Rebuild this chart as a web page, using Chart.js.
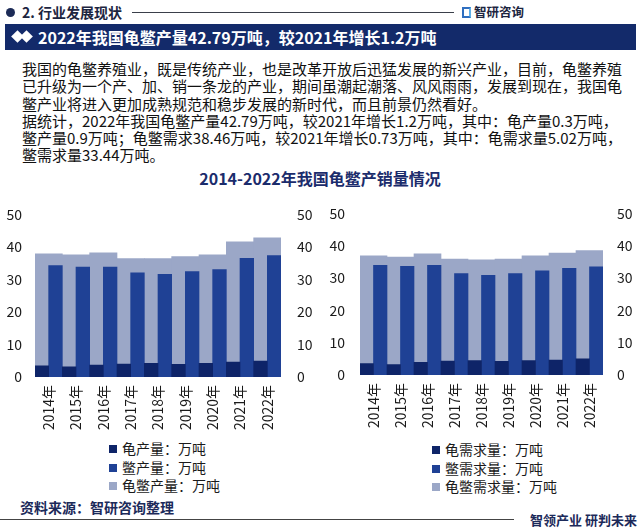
<!DOCTYPE html>
<html><head><meta charset="utf-8">
<script src="https://cdn.jsdelivr.net/npm/chart.js@4.4.1/dist/chart.umd.min.js"></script>
<style>
html,body{margin:0;padding:0;background:#fff;}
body{width:640px;height:532px;position:relative;overflow:hidden;font-family:"Noto Sans CJK SC","Noto Sans",sans-serif;color:#111;}
.abs{position:absolute;}
#hdrDot{left:6px;top:8px;width:9px;height:9px;border-radius:50%;background:#1c2b57;}
#hdrText{left:22px;top:2px;font-size:14px;font-weight:bold;color:#1c2540;line-height:20px;}
#hdrLine{left:132px;top:12px;width:322px;height:1px;background:#3a3f4a;}
#logo{left:462px;top:3px;font-size:12.5px;font-weight:bold;color:#1c2540;line-height:18px;}
#logoIcon{display:inline-block;width:9px;height:11px;border:2px solid #2f6fc0;border-right-color:#5fb0e8;box-sizing:border-box;margin-right:3px;vertical-align:-1px;}
#banner{left:5px;top:24px;width:631px;height:26px;background:#132a6a;}
#bannerText{left:38px;top:24px;font-size:16px;font-weight:bold;color:#fff;line-height:26px;}
.dia{width:9px;height:9px;background:#fff;transform:rotate(45deg);top:32px;}
#para{left:22px;top:60px;width:610px;font-size:15px;line-height:17.3px;color:#111;}
#para div{white-space:nowrap;}
#title{left:0;top:168px;width:640px;text-align:center;font-size:16px;font-weight:bold;color:#1b2c6c;line-height:20px;}
canvas{position:absolute;}
.legend{position:absolute;font-size:14px;line-height:18.5px;color:#1a1a1a;}
.legend .it{white-space:nowrap;}
.legend .sw{display:inline-block;width:8px;height:8px;margin-right:5px;vertical-align:1px;}
#src{left:20px;top:497px;font-size:14px;font-weight:bold;color:#1c2a5a;line-height:20px;}
#footLine{left:0;top:519px;width:514px;height:1px;background:#444;}
#slogan{left:530px;top:511px;font-size:13px;font-weight:bold;color:#1c2a5a;line-height:18px;}
</style></head>
<body>
<div id="hdrDot" class="abs"></div>
<div id="hdrText" class="abs">2. 行业发展现状</div>
<div id="hdrLine" class="abs"></div>
<div id="logo" class="abs"><span id="logoIcon"></span>智研咨询</div>
<div id="banner" class="abs"></div>
<div class="abs dia" style="left:13px"></div>
<div class="abs dia" style="left:22px"></div>
<div id="bannerText" class="abs">2022年我国龟鳖产量42.79万吨，较2021年增长1.2万吨</div>
<div id="para" class="abs">
<div>我国的龟鳖养殖业，既是传统产业，也是改革开放后迅猛发展的新兴产业，目前，龟鳖养殖</div>
<div>已升级为一个产、加、销一条龙的产业，期间虽潮起潮落、风风雨雨，发展到现在，我国龟</div>
<div>鳖产业将进入更加成熟规范和稳步发展的新时代，而且前景仍然看好。</div>
<div>据统计，2022年我国龟鳖产量42.79万吨，较2021年增长1.2万吨，其中：龟产量0.3万吨，</div>
<div>鳖产量0.9万吨；龟鳖需求38.46万吨，较2021年增长0.73万吨，其中：龟需求量5.02万吨，</div>
<div>鳖需求量33.44万吨。</div>
</div>
<div id="title" class="abs">2014-2022年我国龟鳖产销量情况</div>
<canvas id="c1" width="320" height="240" style="left:0;top:190px;width:320px;height:240px"></canvas>
<canvas id="c2" width="320" height="240" style="left:320px;top:190px;width:320px;height:240px"></canvas>
<div id="lg1" class="legend" style="left:109px;top:439px"></div>
<div id="lg2" class="legend" style="left:432px;top:440px"></div>
<div id="src" class="abs">资料来源：智研咨询整理</div>
<div id="footLine" class="abs"></div>
<div id="slogan" class="abs">智领产业 研判未来</div>
<script>
// ---- data ----
const years = ['2014年','2015年','2016年','2017年','2018年','2019年','2020年','2021年','2022年'];
const turtleOutput = [3.4, 3.1, 3.7, 4.0, 4.2, 3.9, 4.2, 4.6, 4.9];
const softshellOutput = [34.3, 33.8, 33.8, 32.0, 31.6, 32.4, 33.0, 36.5, 37.3];
const totalOutput = [37.9, 37.6, 38.2, 36.4, 36.4, 37.0, 37.6, 41.59, 42.79];
const turtleDemand = [3.5, 3.2, 3.9, 4.3, 4.5, 4.2, 4.5, 4.6, 5.02];
const softshellDemand = [33.9, 33.6, 33.9, 31.4, 30.8, 31.4, 32.2, 33.0, 33.44];
const totalDemand = [36.9, 36.5, 37.5, 35.9, 35.6, 35.9, 36.9, 37.73, 38.46];
const outputNames = ['龟产量：万吨', '鳖产量：万吨', '龟鳖产量：万吨'];
const demandNames = ['龟需求量：万吨', '鳖需求量：万吨', '龟鳖需求量：万吨'];
const axisMin = 0, axisMax = 50, axisStep = 10;

const colors = ['#0e2468', '#1f4195', '#9ba7c7'];
Chart.defaults.font.family = '"Noto Sans CJK SC","Noto Sans",sans-serif';
Chart.defaults.color = '#1a1a1a';

function makeChart(id, names, a, b, total, geo) {
  const yAxis = (pos, w, pad) => ({
    position: pos, min: axisMin, max: axisMax,
    ticks: { stepSize: axisStep, padding: pad, font: { size: 14 }, color: '#1a1a1a' },
    grid: { display: false, drawTicks: false }, border: { display: false },
    afterFit: s => { s.width = w; }
  });
  new Chart(document.getElementById(id), {
    type: 'bar',
    data: {
      labels: years,
      datasets: [
        { label: names[0], data: a, backgroundColor: colors[0], order: 1, categoryPercentage: 1, barPercentage: 1 },
        { label: names[1], data: b, backgroundColor: colors[1], order: 1, categoryPercentage: 1, barPercentage: 1 },
        { label: names[2], data: total, backgroundColor: colors[2], order: 2, grouped: false, categoryPercentage: 1, barPercentage: 1 }
      ]
    },
    options: {
      responsive: false, animation: false, devicePixelRatio: 1,
      layout: { padding: { top: 0, left: 0, right: 0, bottom: 0 } },
      plugins: { legend: { display: false }, tooltip: { enabled: false } },
      scales: {
        x: {
          offset: true,
          ticks: { minRotation: 90, maxRotation: 90, autoSkip: false, padding: 8, font: { size: 14 }, color: '#1a1a1a' },
          grid: { display: false, drawTicks: false }, border: { display: false },
          afterFit: s => { s.height = geo.xh; }
        },
        y: yAxis('left', geo.lw, geo.lp),
        y2: yAxis('right', geo.rw, geo.rp)
      }
    }
  });
}
function makeLegend(id, names) {
  const el = document.getElementById(id);
  names.forEach((n, i) => {
    const d = document.createElement('div');
    d.className = 'it';
    d.innerHTML = '<span class="sw" style="background:' + colors[i] + '"></span>' + n;
    el.appendChild(d);
  });
}
makeChart('c1', outputNames, turtleOutput, softshellOutput, totalOutput, { xh: 53, lw: 35, lp: 13, rw: 39, rp: 16 });
makeChart('c2', demandNames, turtleDemand, softshellDemand, totalDemand, { xh: 55, lw: 40, lp: 15, rw: 37, rp: 14 });
makeLegend('lg1', outputNames);
makeLegend('lg2', demandNames);
</script>
</body></html>
